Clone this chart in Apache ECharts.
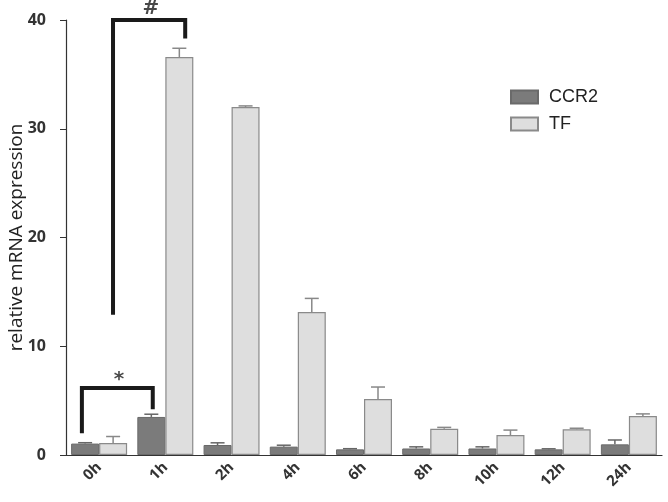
<!DOCTYPE html>
<html><head><meta charset="utf-8">
<script src="https://cdn.jsdelivr.net/npm/echarts@6/dist/echarts.min.js"></script>
<style>html,body{margin:0;padding:0;background:#fff}#c{width:668px;height:502px}</style>
</head><body><div id="c"></div>
<script>
const categories = ['0h','1h','2h','4h','6h','8h','10h','12h','24h'];
const ccr2 = [1.05,3.5,0.92,0.77,0.52,0.6,0.6,0.52,0.98];
const ccr2Err = [0.08,0.25,0.2,0.13,0.06,0.15,0.15,0.05,0.4];
const tf = [1.1,36.6,32.0,13.15,5.15,2.42,1.84,2.36,3.58];
const tfErr = [0.6,0.8,0.1,1.25,1.1,0.12,0.45,0.1,0.2];
const yTicks = [0,10,20,30,40];
// significance brackets in (category-position, value) space
const hashBracket = [[0.71,12.9],[0.71,40],[1.80,40],[1.80,38.3]];
const starBracket = [[0.24,2.0],[0.24,6.15],[1.31,6.15],[1.31,4.2]];
const marks = [{pos:[1.28,41.0], text:'#'},{pos:[0.80,6.9], text:'*'}];

const BW = 28;
function errSeries(name, vals, errs, offset, color){
  return {
    type:'custom', name: name+'err', silent:true, z:1,
    data: vals.map((v,i)=>[i, v, v+errs[i]]),
    renderItem(params, api){
      const p0 = api.coord([api.value(0), api.value(1)]);
      const p1 = api.coord([api.value(0), api.value(2)]);
      const x = p0[0] + offset;
      return {type:'group', children:[
        {type:'line', shape:{x1:x,y1:p0[1],x2:x,y2:p1[1]}, style:{stroke:color,lineWidth:1.5}},
        {type:'line', shape:{x1:x-7,y1:p1[1],x2:x+7,y2:p1[1]}, style:{stroke:color,lineWidth:1.5}}
      ]};
    }
  };
}
const chart = echarts.init(document.getElementById('c'));
chart.setOption({
  animation:false,
  grid:{left:66, right:6, top:20, bottom:47, containLabel:false, outerBoundsMode:'none'},
  legend:{left:505, top:83, orient:'vertical', itemWidth:27, itemHeight:13, itemGap:9,
    icon:'rect', data:['CCR2','TF'],
    textStyle:{fontFamily:'Liberation Sans', fontSize:18, color:'#222', padding:[0,0,0,6]}},
  xAxis:[{
    type:'category', data:categories,
    axisLine:{lineStyle:{color:'#333', width:1.2}},
    axisTick:{alignWithLabel:true, length:6, lineStyle:{color:'#333'}},
    axisLabel:{rotate:45, margin:10, fontFamily:'Open Sans', fontWeight:'bold', fontSize:15, color:'#333'}
  },{
    type:'value', min:0, max:9, show:false
  }],
  yAxis:{
    type:'value', min:0, max:40, interval:10,
    name:'relative mRNA expression', nameLocation:'middle', nameGap:40, nameMoveOverlap:false,
    nameTextStyle:{fontFamily:'Open Sans', fontSize:19, color:'#222'},
    axisLine:{show:true, lineStyle:{color:'#333', width:1.2}},
    axisTick:{show:true, length:6, lineStyle:{color:'#333'}},
    splitLine:{show:false},
    axisLabel:{margin:20, fontFamily:'Open Sans', fontWeight:'bold', fontSize:16, color:'#333',
      formatter:v=>yTicks.includes(v)?String(v):''}
  },
  series:[
    {name:'CCR2', type:'bar', data:ccr2, barWidth:BW, barGap:'0%', z:2,
      itemStyle:{color:'#7b7b7b', borderColor:'#6a6a6a', borderWidth:1}},
    {name:'TF', type:'bar', data:tf, barWidth:BW, z:2,
      itemStyle:{color:'#dedede', borderColor:'#8a8a8a', borderWidth:1.2}},
    errSeries('CCR2', ccr2, ccr2Err, -BW/2, '#666'),
    errSeries('TF', tf, tfErr, BW/2, '#888'),
    {type:'line', xAxisIndex:1, data:hashBracket, symbol:'none', silent:true, z:5, clip:false,
      lineStyle:{color:'#1a1a1a', width:4, join:'miter'}},
    {type:'line', xAxisIndex:1, data:starBracket, symbol:'none', silent:true, z:5, clip:false,
      lineStyle:{color:'#1a1a1a', width:4, join:'miter'}},
    {type:'scatter', xAxisIndex:1, symbolSize:1, silent:true, z:6, clip:false,
      itemStyle:{color:'rgba(0,0,0,0)'},
      data: marks.map(m=>({value:m.pos, label:{show:true, formatter:m.text, position:'inside',
        fontFamily:'DejaVu Sans', fontWeight:'bold', fontSize:20, color:'#1a1a1a'}}))}
  ]
});
</script></body></html>
